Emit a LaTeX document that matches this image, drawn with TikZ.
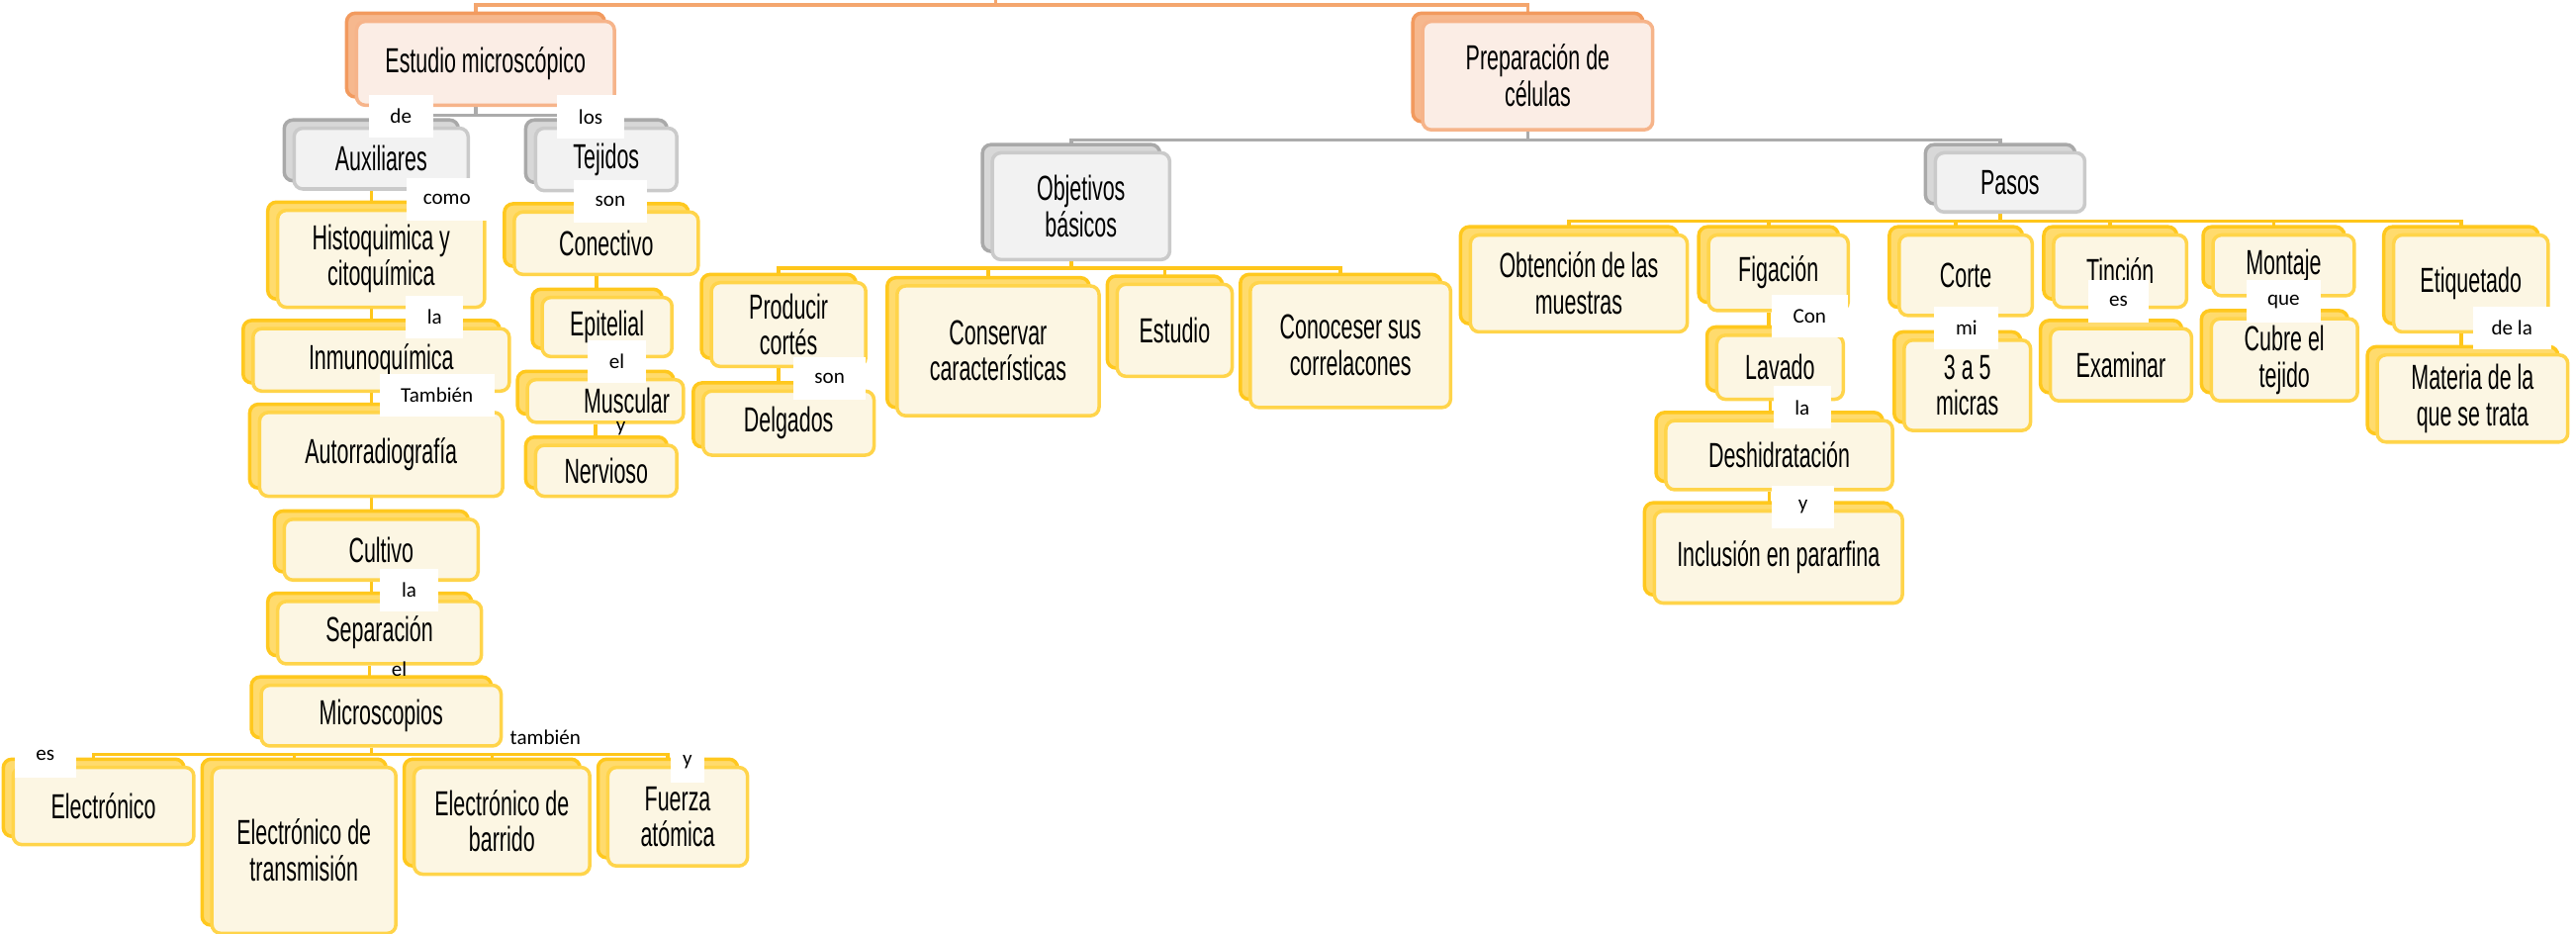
\documentclass[tikz,border=0pt]{standalone}
\usepackage{fontspec}
\setmainfont{Liberation Sans}[FakeStretch=0.61]
\newfontfamily\lblfont{Carlito}
\usetikzlibrary{shadows}
\pgfdeclarelayer{background}
\pgfsetlayers{background,main}

\newlength{\px}
\setlength{\px}{0.16607mm}

\definecolor{ofill}{HTML}{FBEDE5}
\definecolor{oedge}{HTML}{F6B48A}
\definecolor{oback}{HTML}{F29A5E}
\definecolor{gfill}{HTML}{F2F2F2}
\definecolor{gedge}{HTML}{CACACA}
\definecolor{gback}{HTML}{A9A9A9}
\definecolor{yfill}{HTML}{FCF6E3}
\definecolor{yedge}{HTML}{FFD44A}
\definecolor{yback}{HTML}{FFC81E}
\definecolor{olinec}{HTML}{F4A66E}
\definecolor{glinec}{HTML}{ABABAB}
\definecolor{ylinec}{HTML}{FFC61A}

\tikzset{
  box/.style={rectangle, rounded corners=2.5pt, line width=1pt, align=center,
              inner sep=1pt, font=\fontsize{10}{10.4}\selectfont},
  obox/.style={box, draw=oedge, fill=ofill,
               copy shadow={shadow xshift=-6\px, shadow yshift=5\px, draw=oback, fill=oback!70, line width=1pt}},
  gbox/.style={box, draw=gedge, fill=gfill,
               copy shadow={shadow xshift=-6\px, shadow yshift=5\px, draw=gback, fill=gback!45, line width=1pt}},
  ybox/.style={box, draw=yedge, fill=yfill,
               copy shadow={shadow xshift=-6\px, shadow yshift=5\px, draw=yback, fill=yback!65, line width=1pt}},
  sz/.style 2 args={minimum width=#1\px, minimum height=#2\px},
  lbl/.style={fill=white, font=\lblfont\fontsize{6}{7}\selectfont, inner xsep=13\px,
              inner ysep=0pt, minimum height=26\px},
  lbltxt/.style={font=\lblfont\fontsize{6}{7}\selectfont, inner sep=1pt},
  oline/.style={draw=olinec, line width=1pt},
  gline/.style={draw=glinec, line width=1pt},
  yline/.style={draw=ylinec, line width=1pt},
}

\begin{document}
\begin{tikzpicture}[x=0.16607mm, y=-0.16607mm]
\useasboundingbox (0,0) rectangle (1568,568.4);

% first level
\node[obox, sz={157}{51}] (estudio) at (295.5,38.5) {Estudio microscópico};
\node[obox, sz={140}{66}] (prep) at (936,46) {Preparación de\\células};

% second level
\node[gbox, sz={106}{37}] (aux) at (232,96.5) {Auxiliares};
\node[gbox, sz={86}{38}] (tej) at (369,97) {Tejidos};
\node[gbox, sz={108}{65}] (obj) at (658,125.5) {Objetivos\\básicos};
\node[gbox, sz={91}{36}] (pasos) at (1223.5,111) {Pasos};

%% auxiliares
\node[ybox, sz={126}{59}] (histo) at (232,157.5) {Histoquimica y\\citoquímica};
\node[ybox, sz={156}{38}] (inmuno) at (232,219) {Inmunoquímica};
\node[ybox, sz={148}{51}] (autorrad) at (232,276.5) {Autorradiografía};
\node[ybox, sz={118}{37}] (cultivo) at (232,334.5) {Cultivo};
\node[ybox, sz={124}{38}] (separ) at (231,385) {Separación};
\node[ybox, sz={146}{37}] (micro) at (232,435.5) {Microscopios};
\node[ybox, sz={110}{47}] (elec) at (63,490.5) {Electrónico};
\node[ybox, sz={112}{101}] (trans) at (185,517.5) {Electrónico de\\transmisión};
\node[ybox, sz={107}{65}] (barr) at (305.5,499.5) {Electrónico de\\barrido};
\node[ybox, sz={85}{60}] (fuerza) at (412.5,497) {Fuerza\\atómica};

%% tejidos
\node[ybox, sz={112}{38}] (conect) at (369,148) {Conectivo};
\node[ybox, sz={79}{36}] (epit) at (369.5,199) {Epitelial};
\node[ybox, sz={95}{26}] (musc) at (368.5,244) {\hspace{26\px}Muscular};
\node[ybox, sz={86}{31}] (nerv) at (369,286.5) {Nervioso};

%% objetivos
\node[ybox, sz={94}{51}] (prod) at (480,197.5) {Producir\\cortés};
\node[ybox, sz={104}{39}] (delg) at (480,257.5) {Delgados};
\node[ybox, sz={123}{79}] (conserv) at (607.5,213.5) {Conservar\\características};
\node[ybox, sz={70}{56}] (estud) at (715,201) {Estudio};
\node[ybox, sz={122}{76}] (conoc) at (822,210) {Conoceser sus\\correlacones};

%% pasos
\node[ybox, sz={132}{59}] (obten) at (961,172.5) {Obtención de las\\muestras};
\node[ybox, sz={85}{46}] (figac) at (1082.5,166) {Figación};
\node[ybox, sz={77}{39}] (lavado) at (1083.5,223.5) {Lavado};
\node[ybox, sz={138}{42}] (deshid) at (1083,277) {Deshidratación};
\node[ybox, sz={151}{56}] (inclus) at (1082.5,339) {Inclusión en pararfina};
\node[ybox, sz={81}{49}] (corte) at (1196.5,167.5) {Corte};
\node[ybox, sz={77}{55}] (micras) at (1197.5,234.5) {3 a 5\\micras};
\node[ybox, sz={81}{44}] (tincion) at (1290.5,165) {Tinción};
\node[ybox, sz={86}{44}] (examinar) at (1291,222) {Examinar};
\node[ybox, sz={86}{37}] (montaje) at (1390,161.5) {Montaje};
\node[ybox, sz={89}{50}] (cubre) at (1390.5,219) {Cubre el\\tejido};
\node[ybox, sz={94}{59}] (etiq) at (1504,172.5) {Etiquetado};
\node[ybox, sz={116}{53}] (materia) at (1505,242.5) {Materia de la\\que se trata};

% connectors
\begin{pgfonlayer}{background}
\coordinate (root) at (606,0);
\foreach \c in {estudio,prep}
  \draw[oline] (root) -- ++(0,3) -| ([xshift=-6\px]\c.north);
\foreach \c in {aux,tej}
  \draw[gline] ([xshift=-6\px]estudio.south) -- ++(0,5) -| ([xshift=-6\px]\c.north);
\foreach \c in {obj,pasos}
  \draw[gline] ([xshift=-6\px]prep.south) -- ++(0,5) -| ([xshift=-6\px]\c.north);
\foreach \c in {prod,conserv,estud,conoc}
  \draw[yline] ([xshift=-6\px]obj.south) -- ++(0,4) -| ([xshift=-6\px]\c.north);
\foreach \c in {obten,figac,corte,tincion,montaje,etiq}
  \draw[yline] ([xshift=-6\px]pasos.south) -- ++(0,4.5) -| ([xshift=-6\px]\c.north);
\foreach \c in {elec,trans,barr,fuerza}
  \draw[yline] ([xshift=-6\px]micro.south) -- ++(0,4) -| ([xshift=-6\px]\c.north);
\foreach \a/\b in {aux/histo,histo/inmuno,inmuno/autorrad,autorrad/cultivo,cultivo/separ,separ/micro,
                   tej/conect,conect/epit,epit/musc,musc/nerv,prod/delg,
                   figac/lavado,lavado/deshid,deshid/inclus,corte/micras,tincion/examinar,
                   montaje/cubre,etiq/materia}
  \draw[yline] ([xshift=-6\px]\a.south) -- ([xshift=-6\px]\a.south |- \b.north);
\end{pgfonlayer}

% link words
\node[lbl] (lde) at (244,70.5) {de};
\node[lbl] (llos) at (359.5,71) {los};
\node[lbl, inner xsep=10\px] (lcomo) at (272,121.5) {como};
\node[lbl] (lla1) at (264.5,193) {la};
\node[lbl] (ltamb) at (266,240.5) {También};
\node[lbl] (lson1) at (371.5,122.5) {son};
\node[lbl] (lel1) at (375.5,220) {el};
\node[lbltxt] (ly1) at (378,261) {y};
\node[lbl] (lla2) at (249,359) {la};
\node[lbltxt] (lel2) at (243,407) {el};
\node[lbl] (les1) at (27.5,460) {es};
\node[lbltxt] (ltamb2) at (332,449) {también};
\node[lbl, inner xsep=7.5\px] (ly2) at (418.5,463.5) {y};
\node[lbl] (lson2) at (505,230.5) {son};
\node[lbl] (lcon) at (1101.5,192.5) {Con};
\node[lbl] (lla3) at (1097,248) {la};
\node[lbl, inner xsep=16\px] (ly3) at (1097.5,308.5) {y};
\node[lbl] (lmi) at (1197,199.5) {mi};
\node[lbl] (les2) at (1289.5,183.5) {es};
\node[lbl] (lque) at (1390,183.5) {que};
\node[lbl, inner xsep=11.5\px] (ldela) at (1529,199.5) {de la};

\end{tikzpicture}
\end{document}
